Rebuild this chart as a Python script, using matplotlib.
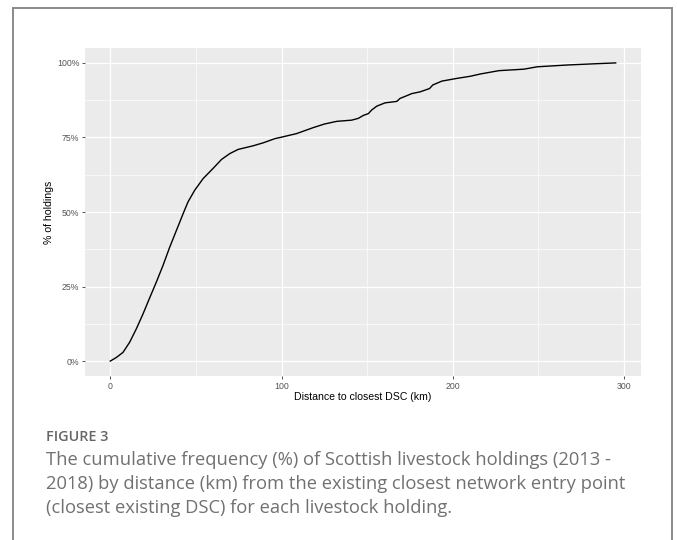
"""Cumulative % of Scottish livestock holdings by distance to closest DSC, ggplot-style panel with caption."""

import matplotlib.pyplot as plt
from matplotlib.lines import Line2D
from matplotlib.ticker import FuncFormatter, MultipleLocator

DIST_KM = [
    0, 3.5, 7.4, 11.3, 15.2, 19.1, 23.0, 26.9, 30.8, 34.7, 38.6, 42.5,
    45.4, 49.3, 54.2, 60.0, 64.9, 69.8, 74.7, 83.4, 89.3, 96.1, 100.0,
    108.8, 118.5, 125.0, 132.2, 140.9, 144.8, 147.8, 150.7, 152.6, 155.6,
    160.4, 167.3, 169.2, 173.1, 176.0, 180.9, 186.4, 188.3, 193.6, 202.3,
    210.0, 216.2, 226.9, 241.5, 249.3, 266.9, 282.5, 295.1,
]
CUM_PCT = [
    0, 1.2, 2.9, 6.3, 10.8, 15.8, 21.2, 26.5, 32.1, 38.2, 43.8, 49.4,
    53.4, 57.3, 61.2, 64.6, 67.6, 69.6, 71.0, 72.2, 73.2, 74.6, 75.1,
    76.3, 78.3, 79.5, 80.4, 80.8, 81.4, 82.4, 83.0, 84.2, 85.5,
    86.6, 87.1, 88.1, 89.0, 89.7, 90.3, 91.4, 92.6, 93.9, 94.8,
    95.5, 96.3, 97.4, 97.9, 98.7, 99.3, 99.7, 100.0,
]

X_LABEL = "Distance to closest DSC (km)"
Y_LABEL = "% of holdings"
FIG_LABEL = "FIGURE 3"
CAPTION_LINES = [
    "The cumulative frequency (%) of Scottish livestock holdings (2013 -",
    "2018) by distance (km) from the existing closest network entry point",
    "(closest existing DSC) for each livestock holding.",
]

W, H = 677, 540
fig = plt.figure(figsize=(W / 100, H / 100), dpi=100)

# panel in pixel coords: left 85, right 641, top 48, bottom 376
ax = fig.add_axes([85 / W, 1 - 376 / H, 556 / W, 328 / H])
ax.set_facecolor("#EBEBEB")
for s in ax.spines.values():
    s.set_visible(False)

xmax = max(DIST_KM)
ax.set_xlim(-0.05 * xmax, 1.05 * xmax)
ax.set_ylim(-5, 105)

ax.xaxis.set_major_locator(MultipleLocator(100))
ax.xaxis.set_minor_locator(MultipleLocator(50))
ax.yaxis.set_major_locator(MultipleLocator(25))
ax.yaxis.set_minor_locator(MultipleLocator(12.5))
ax.yaxis.set_major_formatter(FuncFormatter(lambda v, _: f"{v:.0f}%"))

ax.grid(which="major", color="white", linewidth=0.9, zorder=0)
ax.grid(which="minor", color="white", linewidth=0.45, zorder=0)
ax.set_axisbelow(True)

ax.tick_params(which="major", length=2, width=0.6, color="#333333",
               labelsize=6.3, labelcolor="#555555", pad=2)
ax.tick_params(which="minor", length=0)

ax.plot(DIST_KM, CUM_PCT, color="black", linewidth=1.0, zorder=3)

ax.set_xlabel(X_LABEL, fontsize=7.6, labelpad=1, family="Liberation Sans")
ax.set_ylabel(Y_LABEL, fontsize=7.6, labelpad=2.5, family="Liberation Sans")
for lab in ax.get_xticklabels() + ax.get_yticklabels():
    lab.set_family("Liberation Sans")

# outer frame of the figure box
frame_kw = dict(color="#8a8a8a", linewidth=1.4, transform=fig.transFigure)
fig.add_artist(Line2D([13 / W, 13 / W], [0, 1 - 8 / H], **frame_kw))
fig.add_artist(Line2D([13 / W, 672 / W], [1 - 8 / H, 1 - 8 / H], **frame_kw))
fig.add_artist(Line2D([672 / W, 672 / W], [0, 1 - 8 / H], **frame_kw))

fig.text(45.5 / W, 1 - 441 / H, FIG_LABEL, fontsize=10.4, fontweight="semibold",
         color="#666666", family="Open Sans", va="baseline", ha="left")
for i, line in enumerate(CAPTION_LINES):
    fig.text(45.5 / W, 1 - (465 + 23.8 * i) / H, line, fontsize=13.2,
             color="#717171", family="Open Sans", va="baseline", ha="left")

fig.savefig("out.png", dpi=100)
